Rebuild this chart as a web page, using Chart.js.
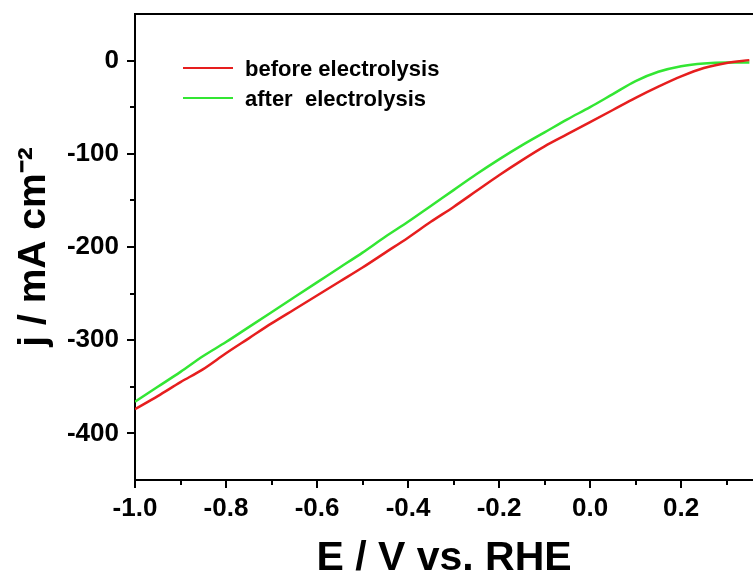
<!DOCTYPE html>
<html>
<head>
<meta charset="utf-8">
<script src="https://cdn.jsdelivr.net/npm/chart.js@4.4.1/dist/chart.umd.min.js"></script>
<style>
  html, body { margin: 0; padding: 0; background: #fff; }
  #wrap { width: 753px; height: 579px; position: relative; }
</style>
</head>
<body>
<div id="wrap"><canvas id="lsv"></canvas></div>
<script>
// potential (V vs. RHE)
const potential = [-1.00, -0.95, -0.90, -0.85, -0.80, -0.75, -0.70, -0.65, -0.60, -0.55,
                   -0.50, -0.45, -0.40, -0.35, -0.30, -0.25, -0.20, -0.15, -0.10, -0.05,
                    0.00,  0.05,  0.10,  0.15,  0.20,  0.25,  0.30,  0.35];
// current density (mA cm-2)
const before = [-374, -360, -345, -331, -314, -298, -282, -267, -252, -237,
                -222, -206, -190, -173, -157, -140, -123, -107, -92, -79,
                -66, -53, -40, -28, -17, -8, -2.5, 0.5];
const after  = [-366, -350, -334, -317, -302, -286, -270, -254, -238, -222,
                -206, -189, -173, -156, -139, -122, -106, -91, -77, -63,
                -50, -36, -22, -12, -6, -3, -2, -2];

const xTicks = [-1.0, -0.8, -0.6, -0.4, -0.2, 0.0, 0.2];
const xMinor = [-0.9, -0.7, -0.5, -0.3, -0.1, 0.1, 0.3];
const yTicks = [-400, -300, -200, -100, 0];
const yMinor = [-350, -250, -150, -50];

const FONT = "'Liberation Sans', Arial, sans-serif";

const toPts = ys => potential.map((x, i) => ({ x: x, y: ys[i] }));

// minor ticks, top frame line and in-plot legend
const extras = {
    id: 'extras',
    afterDraw(chart) {
        const c = chart.ctx, a = chart.chartArea;
        const xs = chart.scales.x, ys = chart.scales.y;
        c.save();
        c.strokeStyle = '#000';
        c.lineWidth = 2;
        c.beginPath();
        c.moveTo(a.left - 1, a.top);
        c.lineTo(a.right, a.top);
        xMinor.forEach(v => {
            const px = Math.round(xs.getPixelForValue(v));
            c.moveTo(px, a.bottom);
            c.lineTo(px, a.bottom + 5);
        });
        yMinor.forEach(v => {
            const py = Math.round(ys.getPixelForValue(v));
            c.moveTo(a.left, py);
            c.lineTo(a.left - 5, py);
        });
        c.stroke();

        c.font = 'bold 22px ' + FONT;
        c.textBaseline = 'middle';
        c.textAlign = 'left';
        chart.data.datasets.forEach((ds, i) => {
            const y = a.top + 54 + i * 30;
            c.strokeStyle = ds.borderColor;
            c.lineWidth = 2;
            c.beginPath();
            c.moveTo(a.left + 48, y);
            c.lineTo(a.left + 98, y);
            c.stroke();
            c.fillStyle = '#000';
            c.fillText(ds.label, a.left + 110, y + 2);
        });
        c.restore();
    }
};

new Chart(document.getElementById('lsv'), {
    type: 'line',
    data: {
        datasets: [{
            label: 'before electrolysis',
            data: toPts(before),
            borderColor: '#e61e1e',
            borderWidth: 2.5,
            pointRadius: 0,
            cubicInterpolationMode: 'monotone',
            fill: false
        }, {
            label: 'after  electrolysis',
            data: toPts(after),
            borderColor: '#33e633',
            borderWidth: 2.5,
            pointRadius: 0,
            cubicInterpolationMode: 'monotone',
            fill: false
        }]
    },
    options: {
        responsive: true,
        maintainAspectRatio: false,
        animation: false,
        layout: { padding: { top: 14, right: 0, left: 0, bottom: 0 } },
        plugins: { legend: { display: false }, tooltip: { enabled: false } },
        scales: {
            x: {
                type: 'linear',
                min: -1.0,
                max: 0.358,
                afterFit: s => { s.height = 99; s.paddingLeft = 0; s.paddingRight = 0; },
                afterBuildTicks: s => { s.ticks = xTicks.map(v => ({ value: v })); },
                grid: { drawOnChartArea: false, tickLength: 8, color: '#000', lineWidth: 2 },
                border: { display: true, color: '#000', width: 2 },
                ticks: {
                    color: '#000',
                    padding: 5,
                    maxRotation: 0,
                    font: { family: FONT, size: 26, weight: 'bold' },
                    callback: v => v.toFixed(1)
                },
                title: {
                    display: true,
                    text: 'E / V vs. RHE',
                    color: '#000',
                    font: { family: FONT, size: 41, weight: 'bold', lineHeight: 1 },
                    padding: { top: 0, bottom: 0 }
                }
            },
            y: {
                min: -450,
                max: 50,
                afterFit: s => { s.width = 135; s.paddingTop = 0; s.paddingBottom = 0; },
                afterBuildTicks: s => { s.ticks = yTicks.map(v => ({ value: v })); },
                grid: { drawOnChartArea: false, tickLength: 8, color: '#000', lineWidth: 2 },
                border: { display: true, color: '#000', width: 2 },
                ticks: {
                    color: '#000',
                    padding: 8,
                    font: { family: FONT, size: 26, weight: 'bold' },
                    callback: v => String(v)
                },
                title: {
                    display: true,
                    text: 'j / mA cm\u207B\u00B2',
                    color: '#000',
                    font: { family: FONT, size: 39, weight: 'bold', lineHeight: 1 },
                    padding: { top: 15, bottom: 0 }
                }
            }
        }
    },
    plugins: [extras]
});
</script>
</body>
</html>
